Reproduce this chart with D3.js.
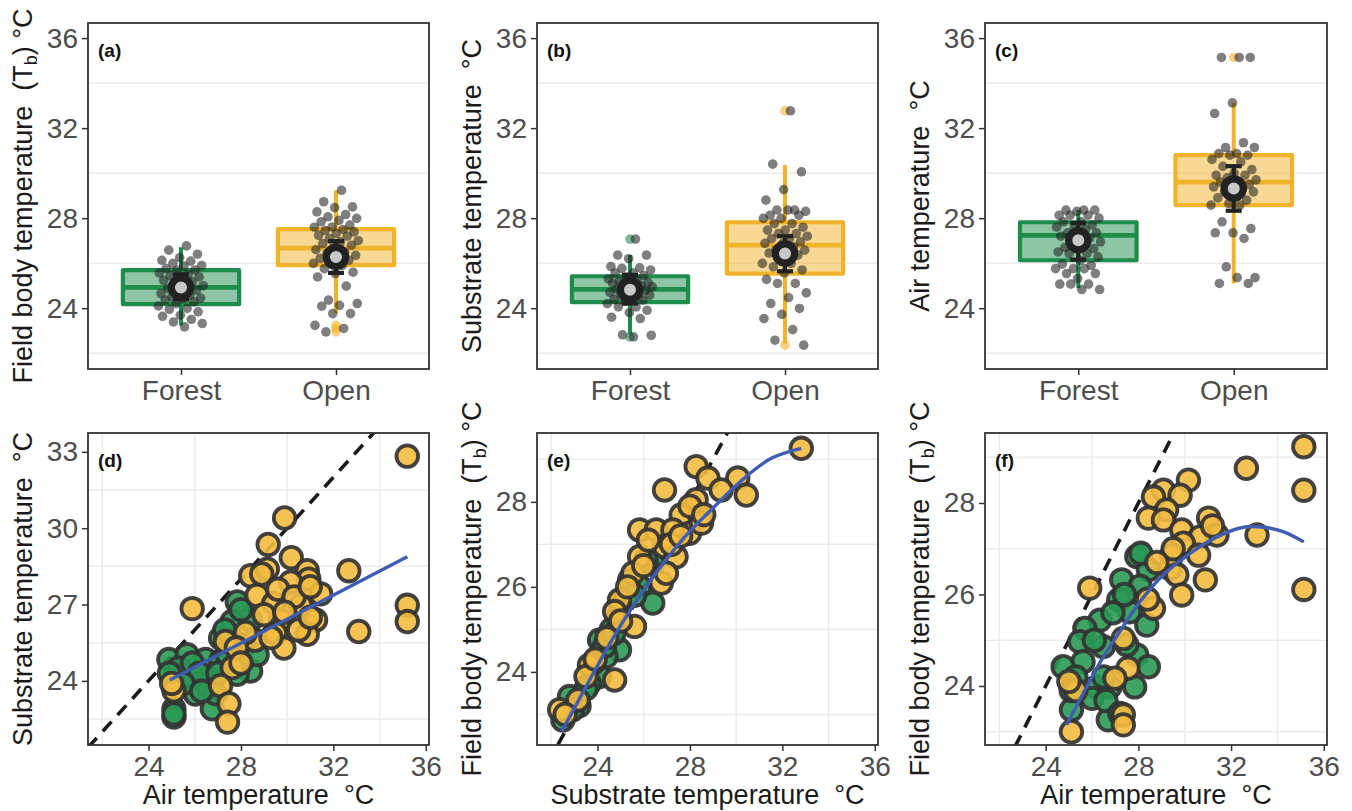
<!DOCTYPE html>
<html>
<head>
<meta charset="utf-8">
<script src="https://cdn.jsdelivr.net/npm/d3@7"></script>
<style>
  body { margin: 0; background: #fff; }
  svg text { font-family: "Liberation Sans", Arial, sans-serif; }
</style>
</head>
<body>
<svg id="chart" width="1352" height="811"></svg>
<script>
// ---- data ----
const habitats = ["Forest", "Open"];

// top row: individual values per habitat
const forestTb = [26.77, 26.58, 26.4, 26.25, 26.13, 26.09, 25.99, 25.9, 25.87, 25.76, 25.7, 25.69, 25.57, 25.5, 25.45,
  25.39, 25.3, 25.24, 25.17, 25.1, 25.0, 24.95, 24.87, 24.8, 24.73, 24.65, 24.58, 24.5, 24.45, 24.43, 24.36, 24.28,
  24.2, 24.1, 23.99, 23.95, 23.84, 23.69, 23.64, 23.5, 23.39, 23.32, 23.17];
const openTb = [29.24, 28.73, 28.5, 28.47, 28.28, 28.16, 28.06, 27.99, 27.9, 27.84, 27.69, 27.61, 27.6, 27.5, 27.45,
  27.39, 27.32, 27.24, 27.2, 27.1, 27.0, 26.95, 26.87, 26.8, 26.73, 26.6, 26.5, 26.43, 26.35, 26.3, 26.21, 26.13,
  26.05, 25.99, 25.9, 25.76, 25.6, 25.54, 25.39, 24.98, 24.36, 24.21, 24.13, 24.09, 23.76, 23.76, 23.24, 23.1, 22.95];
const forestSub = [27.07, 26.36, 26.36, 26.2, 25.85, 25.79, 25.77, 25.7, 25.57, 25.57, 25.45, 25.39, 25.3, 25.24, 25.2,
  25.15, 25.1, 25.1, 25.0, 25.0, 24.95, 24.9, 24.85, 24.8, 24.75, 24.7, 24.6, 24.58, 24.58, 24.5, 24.4, 24.36, 24.3,
  24.2, 24.06, 24.06, 23.91, 23.8, 23.6, 23.54, 22.82, 22.8, 22.73];
const openSub = [32.77, 30.4, 30.06, 29.27, 28.8, 28.36, 28.36, 28.3, 28.36, 28.13, 28.13, 27.99, 27.99, 27.76, 27.76,
  27.6, 27.47, 27.47, 27.32, 27.32, 27.2, 27.1, 27.1, 26.95, 26.88, 26.88, 26.73, 26.6, 26.58, 26.58, 26.45, 26.36,
  26.2, 25.99, 25.99, 25.84, 25.7, 25.57, 25.28, 25.1, 25.1, 24.68, 24.47, 24.21, 23.99, 23.73, 23.54, 23.05, 22.58, 22.36];
const forestAir = [28.36, 28.36, 28.36, 28.3, 28.13, 28.13, 28.13, 28.0, 27.84, 27.84, 27.7, 27.61, 27.6, 27.5, 27.35,
  27.35, 27.35, 27.2, 27.1, 27.0, 26.95, 26.85, 26.7, 26.65, 26.65, 26.5, 26.43, 26.43, 26.28, 26.13, 25.96, 25.9,
  25.76, 25.76, 25.76, 25.54, 25.54, 25.32, 25.07, 25.07, 25.07, 24.83, 24.83];
const openAir = [35.14, 35.14, 35.14, 33.12, 32.65, 31.35, 31.14, 31.14, 30.87, 30.87, 30.8, 30.8, 30.61, 30.5, 30.3,
  30.16, 30.0, 29.91, 29.91, 29.8, 29.7, 29.61, 29.61, 29.5, 29.39, 29.39, 29.3, 29.17, 29.17, 29.0, 28.9, 28.8,
  28.65, 28.58, 28.58, 27.84, 27.54, 27.35, 27.35, 27.1, 25.84, 25.36, 25.36, 25.1, 25.1];

// box summaries: [lower whisker, q1, median, q3, upper whisker]
const tbBox = [[23.24, 24.18, 24.93, 25.69, 26.71], [23.78, 25.91, 26.67, 27.51, 29.24]];
const subBox = [[22.85, 24.27, 24.84, 25.42, 26.36], [22.44, 25.54, 26.8, 27.82, 30.36]];
const airBox = [[24.89, 26.13, 27.24, 27.82, 28.36], [25.1, 28.58, 29.6, 30.8, 33.12]];
// mean with error bar: [mean, low, high]
const tbMean = [[24.92, 24.39, 25.51], [26.28, 25.57, 26.98]];
const subMean = [[24.82, 24.21, 25.48], [26.43, 25.64, 27.2]];
const airMean = [[27.02, 26.16, 27.79], [29.32, 28.33, 30.31]];
// outliers per habitat
const tbOut = [[], [23.24, 23.1, 22.95]];
const subOut = [[27.07, 22.72], [32.77, 22.36]];
const airOut = [[], [35.14]];

// bottom row: [x, y] pairs
const dForest = [[24.88, 24.84], [25.67, 25.03], [26.47, 24.84], [25.1, 24.0], [25.97, 24.13], [26.68, 24.0], [25.1, 22.9],
  [25.1, 22.58], [26.76, 22.9], [27.84, 27.1], [28.42, 26.39], [27.62, 26.33], [28.13, 25.42], [27.12, 25.68], [28.42, 24.39],
  [27.84, 24.26], [27.12, 24.78], [26.03, 23.48], [26.5, 23.87], [28.7, 25.03], [27.42, 25.03], [25.3, 24.5], [25.9, 24.7],
  [26.2, 24.3], [24.9, 24.3], [27.0, 24.3], [27.6, 25.6], [28.0, 26.8], [27.3, 26.0], [26.9, 23.5], [25.5, 23.9],
  [25.1, 22.7], [26.3, 23.6], [27.9, 24.8]];
const dOpen = [[35.2, 32.83], [29.89, 30.4], [29.18, 29.36], [30.18, 28.84], [32.67, 28.33], [28.42, 28.13], [29.14, 28.39],
  [30.87, 28.33], [30.94, 28.0], [30.15, 27.88], [31.45, 27.42], [28.7, 27.36], [29.42, 27.04], [30.58, 26.97], [25.89, 26.84],
  [31.23, 26.39], [29.71, 26.39], [35.2, 26.97], [35.2, 26.33], [33.1, 25.94], [30.87, 25.83], [29.49, 25.87], [29.86, 25.29],
  [27.33, 25.55], [27.62, 24.52], [27.12, 23.81], [27.48, 23.1], [27.42, 22.38], [25.1, 23.61], [28.9, 28.2], [29.6, 27.6],
  [30.3, 27.3], [31.0, 27.7], [29.0, 26.6], [29.9, 26.7], [28.6, 25.6], [30.5, 26.0], [31.0, 26.5], [28.2, 25.9],
  [27.8, 25.3], [25.0, 23.9], [28.0, 24.7], [29.3, 25.7]];
const eForest = [[26.39, 26.56], [25.39, 26.16], [26.39, 25.62], [24.88, 25.3], [24.09, 24.75], [24.95, 24.52], [24.37, 24.36],
  [24.09, 23.89], [23.65, 23.73], [22.79, 23.42], [22.5, 22.87], [25.82, 26.01], [26.1, 26.63], [25.0, 25.6], [24.6, 25.0],
  [24.3, 24.6], [23.8, 24.2], [23.2, 23.2], [22.9, 23.1], [25.6, 25.8], [24.7, 24.9], [23.5, 23.6]];
const eOpen = [[32.82, 29.26], [28.27, 28.83], [28.78, 28.56], [30.07, 28.56], [29.35, 28.28], [30.44, 28.16], [26.9, 28.28],
  [28.27, 28.05], [27.62, 27.69], [28.44, 27.65], [25.82, 27.34], [26.54, 27.34], [27.98, 27.26], [27.26, 27.34], [26.9, 26.95],
  [25.82, 26.71], [27.4, 26.71], [26.76, 26.09], [26.98, 26.32], [25.53, 26.32], [24.95, 25.69], [25.6, 25.07], [24.74, 25.42],
  [23.65, 24.16], [24.74, 23.81], [22.36, 23.11], [23.15, 23.34], [23.5, 23.89], [28.0, 27.9], [28.5, 27.5], [27.2, 27.0],
  [26.2, 27.1], [26.0, 26.5], [25.3, 26.0], [25.0, 25.2], [24.4, 24.8], [23.9, 24.3], [22.6, 23.0], [27.6, 27.2], [28.6, 27.7]];
const fForest = [[27.93, 26.83], [28.43, 26.54], [27.28, 26.32], [28.07, 26.18], [27.15, 25.88], [27.62, 25.62], [28.36, 25.33],
  [26.34, 25.44], [25.69, 25.26], [25.47, 24.97], [26.48, 24.86], [25.61, 24.53], [24.75, 24.42], [27.93, 24.68], [28.43, 24.42],
  [25.18, 23.98], [26.2, 23.98], [26.77, 23.98], [27.84, 23.98], [26.0, 23.73], [25.11, 23.48], [26.7, 23.26], [26.6, 23.68],
  [26.9, 25.6], [26.1, 25.0], [27.5, 24.9], [25.3, 24.2], [26.5, 24.2], [27.2, 23.4], [25.1, 23.9], [28.1, 26.9], [27.4, 26.0]];
const fOpen = [[35.14, 29.23], [35.14, 28.28], [35.14, 26.11], [32.66, 28.76], [33.12, 27.3], [30.16, 28.5], [29.08, 28.28],
  [29.8, 28.17], [28.65, 28.13], [29.22, 27.85], [28.43, 27.67], [29.08, 27.63], [31.03, 27.67], [29.87, 27.41], [31.39, 27.3],
  [30.67, 27.26], [29.94, 27.12], [29.44, 26.86], [30.6, 26.86], [29.37, 26.57], [29.66, 26.43], [30.89, 26.32], [29.87, 25.99],
  [25.9, 26.14], [28.65, 25.7], [27.35, 25.04], [27.55, 24.39], [26.99, 24.17], [27.35, 23.37], [27.35, 23.15], [25.11, 23.0],
  [31.2, 27.5], [29.5, 27.0], [28.8, 26.7], [28.4, 25.9], [25.3, 23.9], [25.0, 24.1]];

// fitted lines as traced
const dFit = [[24.92, 24.03], [35.2, 28.88]];
const eFit = [[22.45, 22.6], [23.51, 23.66], [24.38, 24.52], [25.24, 25.3], [26.11, 26.01], [26.97, 26.64], [27.98, 27.3],
  [29.14, 27.93], [30.44, 28.6], [31.54, 29.03], [32.82, 29.26]];
const fFit = [[24.9, 23.15], [25.62, 23.84], [26.41, 24.57], [27.2, 25.19], [28.07, 25.84], [29.08, 26.43], [30.23, 26.9],
  [31.39, 27.26], [32.54, 27.47], [33.41, 27.47], [34.27, 27.37], [35.14, 27.15]];

// ticks
const topTicks = [24, 28, 32, 36], topGrid = [22, 26, 30, 34];
const tempTicks = [24, 28, 32, 36], tempGrid = [22, 26, 30, 34];
const dTicks = [24, 27, 30, 33], dGrid = [22.5, 25.5, 28.5, 31.5];
const efTicks = [24, 26, 28], efGrid = [23, 25, 27, 29];

// ---- drawing ----
const boxCol = ["#1e8c4b", "#f0b42c"];
const dotCol = ["#2a9a55", "#f4bc40"];
const fmt = d3.format("d");
const svg = d3.select("#chart");
svg.append("rect").attr("width", 1352).attr("height", 811).attr("fill", "#fff");

const topY = d3.scaleLinear().domain([21.3, 36.67]).range([369, 23]);
const lefts = [88, 537, 985];
const rights = [429, 878, 1327];

let clipId = 0;
function frame(x0, x1, y0, y1) {
  const g = svg.append("g");
  const id = "clip" + (clipId++);
  g.append("clipPath").attr("id", id).append("rect")
    .attr("x", x0).attr("y", y0).attr("width", x1 - x0).attr("height", y1 - y0);
  return { g, clip: "url(#" + id + ")" };
}

function styleAxis(sel) {
  sel.select(".domain").remove();
  sel.selectAll(".tick line").attr("stroke", "#333").attr("stroke-width", 1.5);
  sel.selectAll(".tick text").attr("fill", "#4d4d4d").style("font-size", "28px");
}

function yTitle(g, x0, yMid, parts) {
  const t = g.append("text")
    .attr("transform", `translate(${x0 - 56},${yMid}) rotate(-90)`)
    .attr("text-anchor", "middle")
    .style("font-size", "27px").style("white-space", "pre").attr("fill", "#1a1a1a");
  parts.forEach(p => {
    const s = t.append("tspan").text(p.t);
    if (p.sub) s.attr("baseline-shift", "-25%").style("font-size", "18px");
  });
}

function panelLabel(g, x0, y0, txt) {
  g.append("text").attr("x", x0 + 10).attr("y", y0 + 34)
    .style("font-size", "19px").style("font-weight", "bold").attr("fill", "#111").text(txt);
}

function boxPanel(i, values, box, mean, outs, label, title) {
  const x0 = lefts[i], x1 = rights[i];
  const { g } = frame(x0, x1, 23, 369);
  const x = d3.scaleLinear().domain([0.4, 2.6]).range([x0, x1]);
  const y = topY;

  g.selectAll(".grid").data(topGrid).join("line")
    .attr("x1", x0).attr("x2", x1).attr("y1", d => y(d)).attr("y2", d => y(d))
    .attr("stroke", "#ebebeb").attr("stroke-width", 1.5);

  habitats.forEach((h, k) => {
    const c = k + 1;
    const [lo, q1, med, q3, hi] = box[k];
    // whiskers
    g.append("line").attr("x1", x(c)).attr("x2", x(c)).attr("y1", y(q3)).attr("y2", y(hi))
      .attr("stroke", boxCol[k]).attr("stroke-width", 4);
    g.append("line").attr("x1", x(c)).attr("x2", x(c)).attr("y1", y(q1)).attr("y2", y(lo))
      .attr("stroke", boxCol[k]).attr("stroke-width", 4);
    // box
    g.append("rect").attr("x", x(c - 0.375)).attr("width", x(c + 0.375) - x(c - 0.375))
      .attr("y", y(q3)).attr("height", y(q1) - y(q3))
      .attr("fill", boxCol[k]).attr("fill-opacity", 0.5)
      .attr("stroke", boxCol[k]).attr("stroke-width", 4.2).attr("stroke-linejoin", "round");
    g.append("line").attr("x1", x(c - 0.375)).attr("x2", x(c + 0.375)).attr("y1", y(med)).attr("y2", y(med))
      .attr("stroke", boxCol[k]).attr("stroke-width", 4.8);
    // outliers
    g.selectAll(null).data(outs[k]).join("circle")
      .attr("cx", x(c)).attr("cy", d => y(d)).attr("r", 4.8)
      .attr("fill", boxCol[k]).attr("fill-opacity", 0.6);
  });

  // jittered raw values
  habitats.forEach((h, k) => {
    const c = k + 1;
    const jit = j => (((j + 1) * 0.6180339887) % 1 - 0.5) * 0.3;
    g.selectAll(null).data(values[k]).join("circle")
      .attr("cx", (d, j) => x(c + jit(j))).attr("cy", d => y(d)).attr("r", 4.8)
      .attr("fill", "#222").attr("fill-opacity", 0.58);
  });

  // mean and error bar
  habitats.forEach((h, k) => {
    const c = k + 1;
    const [m, lo, hi] = mean[k];
    const cx = x(c);
    g.append("line").attr("x1", cx).attr("x2", cx).attr("y1", y(lo)).attr("y2", y(hi))
      .attr("stroke", "#222").attr("stroke-width", 4.2);
    [lo, hi].forEach(v => g.append("line").attr("x1", cx - 8).attr("x2", cx + 8)
      .attr("y1", y(v)).attr("y2", y(v)).attr("stroke", "#222").attr("stroke-width", 4.2));
    g.append("circle").attr("cx", cx).attr("cy", y(m)).attr("r", 9.6)
      .attr("fill", "#c9c9c9").attr("stroke", "#222").attr("stroke-width", 7.2);
  });

  g.append("rect").attr("x", x0).attr("y", 23).attr("width", x1 - x0).attr("height", 346)
    .attr("fill", "none").attr("stroke", "#333").attr("stroke-width", 1.8);

  g.append("g").attr("transform", `translate(${x0},0)`)
    .call(d3.axisLeft(y).tickValues(topTicks).tickFormat(fmt).tickSize(6).tickPadding(4)).call(styleAxis);
  g.append("g").attr("transform", `translate(0,369)`)
    .call(d3.axisBottom(x).tickValues([1, 2]).tickFormat(v => habitats[v - 1]).tickSize(6).tickPadding(5))
    .call(styleAxis);

  panelLabel(g, x0, 23, label);
  yTitle(g, x0, 196, title);
}

function scatterPanel(i, forest, open, fit, yDom, yTicks, yGrid, label, xT, yT) {
  const x0 = lefts[i], x1 = rights[i], y0 = 433, y1 = 745;
  const { g, clip } = frame(x0, x1, y0, y1);
  const x = d3.scaleLinear().domain([21.38, 36.14]).range([x0, x1]);
  const y = d3.scaleLinear().domain(yDom).range([y1, y0]);

  g.selectAll(".gx").data(tempGrid).join("line")
    .attr("x1", d => x(d)).attr("x2", d => x(d)).attr("y1", y0).attr("y2", y1)
    .attr("stroke", "#ebebeb").attr("stroke-width", 1.5);
  g.selectAll(".gy").data(yGrid).join("line")
    .attr("x1", x0).attr("x2", x1).attr("y1", d => y(d)).attr("y2", d => y(d))
    .attr("stroke", "#ebebeb").attr("stroke-width", 1.5);

  const inner = g.append("g").attr("clip-path", clip);
  // 1:1 line
  const lo = Math.min(x.domain()[0], yDom[0]), hi = Math.max(x.domain()[1], yDom[1]);
  inner.append("line").attr("x1", x(lo)).attr("y1", y(lo)).attr("x2", x(hi)).attr("y2", y(hi))
    .attr("stroke", "#1a1a1a").attr("stroke-width", 3.6).attr("stroke-dasharray", "13,9");

  [[forest, 0], [open, 1]].forEach(([pts, k]) => {
    inner.selectAll(null).data(pts).join("circle")
      .attr("cx", d => x(d[0])).attr("cy", d => y(d[1])).attr("r", 10.8)
      .attr("fill", dotCol[k]).attr("fill-opacity", 0.9)
      .attr("stroke", "#333").attr("stroke-opacity", 0.92).attr("stroke-width", 3.8);
  });

  const line = d3.line().x(d => x(d[0])).y(d => y(d[1])).curve(d3.curveCatmullRom);
  inner.append("path").attr("d", line(fit)).attr("fill", "none")
    .attr("stroke", "#3f5db3").attr("stroke-width", 3.4);

  g.append("rect").attr("x", x0).attr("y", y0).attr("width", x1 - x0).attr("height", y1 - y0)
    .attr("fill", "none").attr("stroke", "#333").attr("stroke-width", 1.8);

  g.append("g").attr("transform", `translate(${x0},0)`)
    .call(d3.axisLeft(y).tickValues(yTicks).tickFormat(fmt).tickSize(6).tickPadding(4)).call(styleAxis);
  g.append("g").attr("transform", `translate(0,${y1})`)
    .call(d3.axisBottom(x).tickValues(tempTicks).tickFormat(fmt).tickSize(6).tickPadding(5)).call(styleAxis);

  panelLabel(g, x0, y0, label);
  yTitle(g, x0, (y0 + y1) / 2, yT);
  g.append("text").attr("x", (x0 + x1) / 2).attr("y", 804).attr("text-anchor", "middle")
    .style("font-size", "27px").style("white-space", "pre").attr("fill", "#1a1a1a").text(xT);
}

const tbTitle = [{ t: "Field body temperature  (T" }, { t: "b", sub: true }, { t: ") °C" }];
const subTitle = [{ t: "Substrate temperature  °C" }];
const airTitle = [{ t: "Air temperature  °C" }];

boxPanel(0, [forestTb, openTb], tbBox, tbMean, tbOut, "(a)", tbTitle);
boxPanel(1, [forestSub, openSub], subBox, subMean, subOut, "(b)", subTitle);
boxPanel(2, [forestAir, openAir], airBox, airMean, airOut, "(c)", airTitle);

scatterPanel(0, dForest, dOpen, dFit, [21.48, 33.74], dTicks, dGrid, "(d)", "Air temperature  °C", subTitle);
scatterPanel(1, eForest, eOpen, eFit, [22.28, 29.62], efTicks, efGrid, "(e)", "Substrate temperature  °C", tbTitle);
scatterPanel(2, fForest, fOpen, fFit, [22.71, 29.53], efTicks, efGrid, "(f)", "Air temperature  °C", tbTitle);
</script>
</body>
</html>
